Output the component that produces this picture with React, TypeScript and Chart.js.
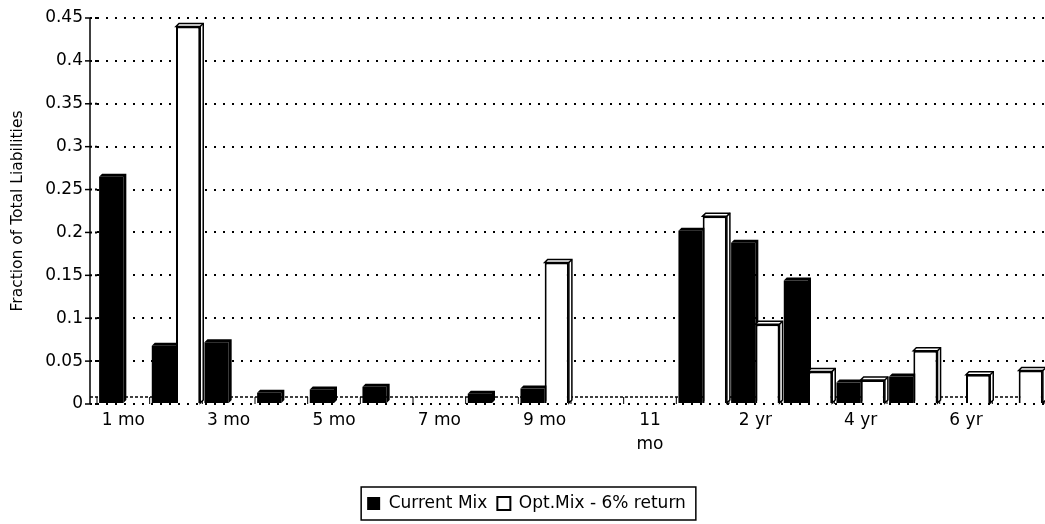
import React, { useEffect, useRef } from "react";
import { Chart, registerables } from "chart.js";

Chart.register(...registerables);

const categories = [
  "1 mo", "2 mo", "3 mo", "4 mo", "5 mo", "6 mo", "7 mo", "8 mo", "9 mo", "10 mo", "11 mo",
  "1 yr", "2 yr", "3 yr", "4 yr", "5 yr", "6 yr", "7 yr",
];
const currentMix = [0.265, 0.068, 0.072, 0.013, 0.017, 0.02, 0, 0.012, 0.018, 0, 0, 0.202, 0.188, 0.144, 0.025, 0.032, 0, 0];
const optMix = [0, 0.44, 0, 0, 0, 0, 0, 0, 0.165, 0, 0, 0.219, 0.093, 0.038, 0.028, 0.062, 0.034, 0.039];
const yTicks = [0, 0.05, 0.1, 0.15, 0.2, 0.25, 0.3, 0.35, 0.4, 0.45];
const seriesNames = ["Current Mix", "Opt.Mix - 6% return"];
const yTitle = "Fraction of Total Liabilities";

const FONT = "'DejaVu Sans', 'Liberation Sans', Arial, sans-serif";
const DEPTH = 3;
const FLOOR = 7;
const AXIS_GAP = 7; // the y axis wall sits a little left of the plotting floor

const legendBorder = {
  id: "legendBorder",
  afterDraw(chart: any) {
    const lg = chart.legend;
    if (!lg || !lg.legendHitBoxes || !lg.legendHitBoxes.length) return;
    const boxes = lg.legendHitBoxes;
    let l = Infinity, r = -Infinity, t = Infinity, b = -Infinity;
    for (const h of boxes) {
      l = Math.min(l, h.left);
      r = Math.max(r, h.left + h.width);
      t = Math.min(t, h.top);
      b = Math.max(b, h.top + h.height);
    }
    const ctx = chart.ctx;
    ctx.save();
    ctx.strokeStyle = "#000";
    ctx.lineWidth = 1.5;
    ctx.strokeRect(l - 6, t - 8, r - l + 16, b - t + 16);
    ctx.restore();
  },
};

// y axis line with tick marks, drawn slightly left of the plot area
const yAxisWall = {
  id: "yAxisWall",
  afterDraw(chart: any) {
    const ys = chart.scales.y;
    const ax = chart.chartArea.left - AXIS_GAP;
    const ctx = chart.ctx;
    ctx.save();
    ctx.strokeStyle = "#000";
    ctx.lineWidth = 1.5;
    ctx.beginPath();
    ctx.moveTo(ax, ys.getPixelForValue(ys.max));
    ctx.lineTo(ax, ys.getPixelForValue(0));
    ctx.stroke();
    ys.ticks.forEach((t: any) => {
      const py = ys.getPixelForValue(t.value);
      ctx.beginPath();
      ctx.moveTo(ax - 5, py);
      ctx.lineTo(ax, py);
      ctx.stroke();
      ctx.beginPath();
      ctx.setLineDash([2, 3]);
      ctx.lineWidth = 2;
      ctx.moveTo(ax, py);
      ctx.lineTo(chart.chartArea.left, py);
      ctx.stroke();
      ctx.setLineDash([]);
      ctx.lineWidth = 1.5;
    });
    ctx.restore();
  },
};

// 3D floor edge + depth faces of the black bars (drawn behind all bars)
const floorAndBackFaces = {
  id: "floorAndBackFaces",
  beforeDatasetsDraw(chart: any) {
    const ctx = chart.ctx;
    const area = chart.chartArea;
    const ys = chart.scales.y;
    const base0 = ys.getPixelForValue(0);
    const n = categories.length;
    const w = (area.right - area.left) / n;
    ctx.save();
    ctx.strokeStyle = "#000";
    ctx.lineWidth = 1;
    for (let i = 0; i <= n; i++) {
      const bx = area.left + i * w;
      ctx.beginPath();
      ctx.moveTo(bx, base0);
      ctx.lineTo(bx, base0 - FLOOR);
      ctx.stroke();
    }
    ctx.beginPath();
    ctx.setLineDash([3, 2]);
    ctx.lineWidth = 1.5;
    ctx.moveTo(area.left - AXIS_GAP, base0 - FLOOR);
    ctx.lineTo(area.right, base0 - FLOOR);
    ctx.stroke();
    ctx.setLineDash([]);

    const meta = chart.getDatasetMeta(0);
    ctx.fillStyle = "#000";
    meta.data.forEach((bar: any, i: number) => {
      if (!currentMix[i]) return;
      const { x, y, base, width } = bar.getProps(["x", "y", "base", "width"], true);
      const l = x - width / 2;
      const r = x + width / 2;
      const d = DEPTH;
      ctx.beginPath();
      ctx.moveTo(l, y);
      ctx.lineTo(l + d, y - d);
      ctx.lineTo(r + d, y - d);
      ctx.lineTo(r + d, base - d);
      ctx.lineTo(r, base);
      ctx.lineTo(r, y);
      ctx.closePath();
      ctx.fill();
    });
    ctx.restore();
  },
};

// pseudo-3D depth faces on the white (outlined) bars
const barDepth = {
  id: "barDepth",
  afterDatasetDraw(chart: any, args: any) {
    if (args.index !== 1) return;
    const meta = chart.getDatasetMeta(1);
    const ctx = chart.ctx;
    ctx.save();
    ctx.strokeStyle = "#000";
    ctx.fillStyle = "#fff";
    ctx.lineWidth = 1.5;
    meta.data.forEach((bar: any, i: number) => {
      if (!optMix[i]) return;
      const { x, y, base, width } = bar.getProps(["x", "y", "base", "width"], true);
      const l = x - width / 2;
      const r = x + width / 2;
      const d = DEPTH;
      ctx.beginPath();
      ctx.moveTo(l, y);
      ctx.lineTo(l + d, y - d);
      ctx.lineTo(r + d, y - d);
      ctx.lineTo(r + d, base - d);
      ctx.lineTo(r, base);
      ctx.lineTo(r, y);
      ctx.closePath();
      ctx.fill();
      ctx.stroke();
      ctx.beginPath();
      ctx.moveTo(r, y);
      ctx.lineTo(r + d, y - d);
      ctx.stroke();
    });
    ctx.restore();
  },
};

export default function App() {
  const ref = useRef<HTMLCanvasElement | null>(null);
  useEffect(() => {
    if (!ref.current) return;
    const chart = new Chart(ref.current, {
      type: "bar",
      data: {
        labels: categories,
        datasets: [
          {
            label: seriesNames[0],
            data: currentMix,
            backgroundColor: "#000",
            borderColor: "#000",
            borderWidth: 0,
          },
          {
            label: seriesNames[1],
            data: optMix,
            backgroundColor: "#fff",
            borderColor: "#000",
            borderWidth: 2,
          },
        ],
      },
      plugins: [floorAndBackFaces, barDepth, yAxisWall, legendBorder],
      options: {
        animation: false,
        responsive: false,
        maintainAspectRatio: false,
        layout: { padding: { top: 18, right: 0, bottom: 2, left: 8 } },
        datasets: { bar: { categoryPercentage: 0.92, barPercentage: 1.0 } },
        scales: {
          x: {
            grid: { display: false, drawTicks: false },
            border: { display: false },
            afterFit: (s: any) => {
              s.height = 81;
            },
            ticks: {
              autoSkip: false,
              maxRotation: 0,
              minRotation: 0,
              color: "#000",
              padding: 5,
              font: { family: FONT, size: 17, lineHeight: 1.4 },
              callback: function (_v: any, i: number) {
                if (i % 2 !== 0) return "";
                const lab = categories[i];
                return lab === "11 mo" ? ["11", "mo"] : lab;
              },
            },
          },
          y: {
            min: 0,
            max: 0.45,
            afterBuildTicks: (s: any) => {
              s.ticks = yTicks.map((v) => ({ value: v }));
            },
            afterFit: (s: any) => {
              s.width = 89;
            },
            title: {
              display: true,
              text: yTitle,
              color: "#000",
              font: { family: FONT, size: 15.5 },
              padding: { top: 1, bottom: 0 },
            },
            border: { display: false, dash: [2, 7] },
            grid: {
              color: "#000",
              lineWidth: 2,
              drawTicks: true,
              tickLength: 8,
              tickColor: "rgba(0,0,0,0)",
            },
            ticks: {
              color: "#000",
              padding: 6,
              font: { family: FONT, size: 17 },
              callback: (v: any) => String(Number(v)),
            },
          },
        },
        plugins: {
          legend: {
            position: "bottom",
            labels: {
              color: "#000",
              font: { family: FONT, size: 17 },
              boxWidth: 13,
              boxHeight: 13,
              padding: 10,
            },
          },
          tooltip: { enabled: false },
        },
      } as any,
    });
    return () => chart.destroy();
  }, []);
  return (
    <div style={{ position: "fixed", left: 0, top: 0, width: 1045, height: 524, background: "#fff" }}>
      <canvas ref={ref} width={1045} height={524} style={{ width: 1045, height: 524 }} />
    </div>
  );
}
